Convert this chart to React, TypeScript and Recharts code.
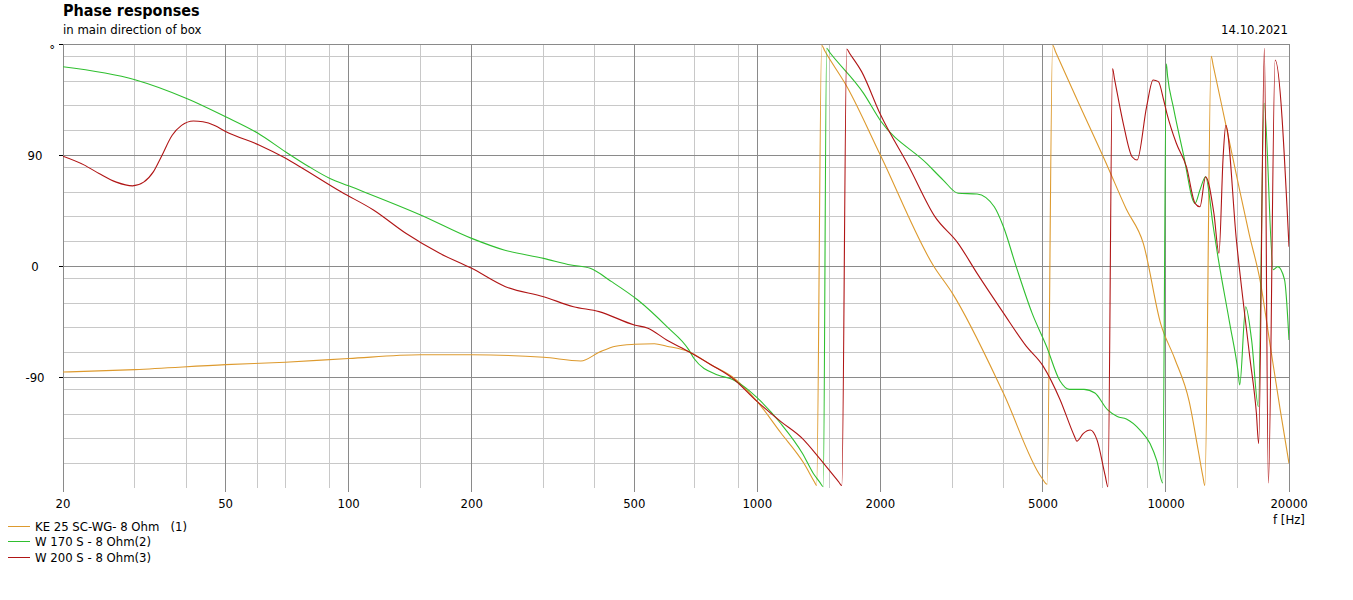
import { CartesianGrid, Line, LineChart, XAxis, YAxis } from "recharts";

const FONT = "'DejaVu Sans Condensed', 'DejaVu Sans', sans-serif";

// KE 25 SC-WG- 8 Ohm (1)
const ke25Freq = [20, 30, 50, 70, 100, 150, 200, 300, 370, 410, 450, 500, 560, 600, 680, 770, 870, 1000, 1140, 1300, 1382, 1397, 1437, 1462, 1660, 2000, 2700, 3000, 4000, 4960, 5120, 5280, 5370, 6000, 7200, 8000, 8800, 9700, 10500, 11400, 12000, 12310, 12450, 12900, 13050, 14000, 15000, 16000, 17000, 18000, 19000, 20000];
const ke25Phase = [-86, -84, -80, -78, -75, -72, -72, -74, -77, -70, -65, -63.5, -63, -65, -69.5, -80, -90, -110, -135, -160, -175.5, -178, 179, 174.5, 145, 90, 0, -22, -103, -171.5, -177, 179, 173.5, 138, 80.5, 46, 18.4, -46.5, -75, -110, -150, -170.5, -178, 170, 162.5, 115, 68, 25, -12, -65, -115, -160];

// W 170 S - 8 Ohm(2)
const w170Freq = [20, 30, 40, 50, 60, 70, 80, 90, 100, 150, 200, 240, 300, 350, 390, 440, 510, 600, 680, 700, 800, 870, 930, 1000, 1140, 1290, 1370, 1420, 1450, 1478, 1503, 1820, 2000, 2600, 2850, 3100, 3450, 3800, 4000, 4300, 4700, 5100, 5500, 5800, 6300, 6700, 7200, 7600, 8000, 8640, 9140, 9500, 9820, 10020, 10090, 10420, 11020, 11780, 12110, 12500, 13050, 13400, 14320, 15000, 15150, 15670, 16200, 16830, 17380, 18300, 18770, 19500, 20000];
const w170Phase = [161.5, 151, 136, 121, 107.6, 92.7, 80.5, 71, 65, 41.4, 22.4, 13, 6.2, 0.8, -1.9, -12.7, -27.6, -49, -68, -75, -88.4, -92, -98, -107, -127.5, -152, -168, -175, -179, 176.5, 173.3, 140, 118, 83, 69.7, 59, 58.4, 48, 32, -0.5, -38, -65, -93, -100, -100, -103, -116.7, -122, -124, -133, -144, -158, -176, 164, 154, 129, 91.4, 50.8, 61.6, 72.4, 32, 7.6, -46.5, -85, -96.5, -33, -60, -114, 132, -3, -0.5, -11, -60];

// W 200 S - 8 Ohm(3)
const w200Freq = [20, 22.5, 24.5, 27, 29.6, 31.5, 33.3, 34.8, 37, 39, 41.7, 44, 47, 50, 60.5, 69, 76, 96, 115, 138, 167, 200, 242, 300, 355, 410, 500, 540, 600, 680, 770, 870, 1000, 1140, 1290, 1420, 1580, 1610, 1655, 1680, 1800, 2000, 2350, 2720, 3100, 3450, 4000, 4550, 5000, 5500, 5970, 6050, 6280, 6530, 6780, 7100, 7210, 7400, 7480, 7860, 8260, 8500, 8965, 9300, 9580, 9870, 10050, 10600, 11220, 11780, 12110, 12500, 13100, 13480, 13800, 14010, 14870, 16030, 16640, 16860, 17410, 17810, 18500, 20000];
const w200Phase = [89, 82, 75, 68, 65, 68, 76.5, 88.6, 106, 114, 117.6, 117, 114, 109, 98, 88.6, 80.5, 60, 45.4, 26.5, 10.3, -1.9, -16.8, -24.9, -33, -37, -47.8, -50.5, -60, -69.5, -80, -91, -110, -126, -140, -156, -174.8, -178, 176, 172.7, 157.6, 123, 80.5, 40, 18.4, -6, -38, -65, -81, -108, -138, -142, -135.7, -133, -141, -170, -179, 160, 152, 115.7, 88.6, 86, 129, 150.8, 149.5, 134.6, 123.8, 99.5, 80.5, 50.8, 48, 72.4, 42.7, 10.3, 88.6, 114, 21, -73.5, -119, -144, 176.5, -176, 167, 15.6];

const freqTicks = [20, 50, 100, 200, 500, 1000, 2000, 5000, 10000, 20000];
const freqMinor = [30, 40, 60, 70, 80, 90, 150, 300, 400, 600, 700, 800, 900, 1500, 3000, 4000, 6000, 7000, 8000, 9000, 15000];
const phaseTicks = [-90, 0, 90, 180];
const phaseMinor = [-170, -160, -150, -140, -130, -120, -110, -100, -80, -70, -60, -50, -40, -30, -20, -10, 10, 20, 30, 40, 50, 60, 70, 80, 100, 110, 120, 130, 140, 150, 160, 170];

const zip = (f: number[], p: number[]) => f.map((v, i) => ({ f: v, phase: p[i] }));

const series = [
  { name: "KE 25 SC-WG- 8 Ohm   (1)", color: "#dd9a2e", data: zip(ke25Freq, ke25Phase) },
  { name: "W 170 S - 8 Ohm(2)", color: "#2fbf2f", data: zip(w170Freq, w170Phase) },
  { name: "W 200 S - 8 Ohm(3)", color: "#b01515", data: zip(w200Freq, w200Phase) },
];

const legendRows = [526.5, 541.5, 557.5];

function FreqTick({ x, y, payload }: any) {
  return (
    <text x={x} y={y} dy="0.71em" textAnchor="middle" fontSize={13} fill="#000" fontFamily={FONT}>
      {payload.value}
    </text>
  );
}

function PhaseTick({ x, y, payload }: any) {
  if (payload.value === 180) {
    return (
      <text x={x - 2} y={y + 10} textAnchor="end" fontSize={13} fill="#000" fontFamily={FONT}>
        °
      </text>
    );
  }
  return (
    <text x={x - 22} y={y + 5} textAnchor="middle" fontSize={13} fill="#000" fontFamily={FONT}>
      {payload.value}
    </text>
  );
}

export default function App() {
  return (
    <div style={{ position: "absolute", left: 0, top: 0, width: 1353, height: 600, background: "#fff" }}>
      <style>{".recharts-cartesian-grid line, .recharts-cartesian-axis-tick-line { shape-rendering: crispEdges; }"}</style>
      <LineChart width={1353} height={600} margin={{ top: 44, right: 64, bottom: 82, left: 8 }}>
        <CartesianGrid stroke="#c8c8c8" horizontalValues={phaseMinor} verticalValues={freqMinor} />
        <CartesianGrid stroke="#8a8a8a" horizontalValues={phaseTicks} verticalValues={freqTicks} />
        <XAxis
          type="number"
          dataKey="f"
          scale="log"
          domain={[20, 20000]}
          ticks={freqTicks}
          allowDataOverflow
          height={30}
          axisLine={false}
          tickLine={{ stroke: "#8a8a8a" }}
          tickSize={4}
          tickMargin={7}
          tick={<FreqTick />}
        />
        <YAxis
          type="number"
          domain={[-180, 180]}
          ticks={phaseTicks}
          allowDataOverflow
          width={55}
          axisLine={false}
          tickLine={{ stroke: "#000" }}
          tickSize={4}
          tickMargin={2}
          tick={<PhaseTick />}
        />
        {series.map((s) => (
          <Line
            key={s.name}
            data={s.data}
            dataKey="phase"
            type="monotone"
            stroke={s.color}
            strokeWidth={1.1}
            dot={false}
            isAnimationActive={false}
          />
        ))}
      </LineChart>
      <svg
        width={1353}
        height={600}
        style={{ position: "absolute", left: 0, top: 0, pointerEvents: "none" }}
        fontFamily={FONT}
      >
        <text x={63} y={16} fontSize={16} fontWeight="bold" fill="#000">Phase responses</text>
        <text x={63} y={34} fontSize={13} fill="#000">in main direction of box</text>
        <text x={1288} y={34} fontSize={13} fill="#000" textAnchor="end">14.10.2021</text>
        <text x={1273} y={524} fontSize={13} fill="#000">f [Hz]</text>
        {series.map((s, i) => (
          <g key={s.name}>
            <line x1={8} x2={30} y1={legendRows[i]} y2={legendRows[i]} stroke={s.color} strokeWidth={1} />
            <text x={35} y={legendRows[i] + 4.5} fontSize={13} fill="#000" style={{ whiteSpace: "pre" }}>
              {s.name}
            </text>
          </g>
        ))}
      </svg>
    </div>
  );
}
